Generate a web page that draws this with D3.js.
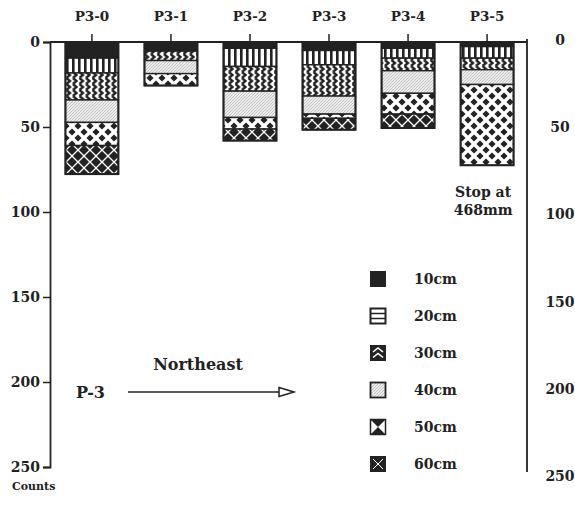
<!DOCTYPE html>
<html>
<head>
<meta charset="utf-8">
<script src="https://cdn.jsdelivr.net/npm/d3@7"></script>
<style>
  body { margin: 0; background: #fff; }
  text { font-family: "DejaVu Serif", "Liberation Serif", serif; font-weight: bold; fill: #222; }
</style>
</head>
<body>
<div id="chart"></div>
<script>
const categories = ["P3-0", "P3-1", "P3-2", "P3-3", "P3-4", "P3-5"];
const depths = ["10cm", "20cm", "30cm", "40cm", "50cm", "60cm"];

// counts per depth layer, one value per station
const d10 = [9.5, 5.4, 3.7, 5.0, 3.7, 2.7];
const d20 = [8.7, 0, 10.7, 8.4, 5.8, 6.8];
const d30 = [15.9, 5.5, 14.5, 18.4, 7.4, 6.8];
const d40 = [13.2, 7.7, 15.5, 10.6, 13.3, 8.7];
const d50 = [13.6, 7.0, 6.8, 2.5, 12.2, 47.5];
const d60 = [16.8, 0, 6.8, 6.7, 8.2, 0];

const yTicks = [0, 50, 100, 150, 200, 250];

const width = 575;
const height = 518;
const ink = "#222";

const svg = d3.select("#chart").append("svg").attr("width", width).attr("height", height);

const series = [d10, d20, d30, d40, d50, d60];
const table = categories.map((c, i) => {
  const row = { cat: c };
  depths.forEach((d, j) => (row[d] = series[j][i]));
  return row;
});
const stacked = d3.stack().keys(depths)(table);

const x = d3.scaleBand().domain(categories).range([52, 527]).paddingInner(0.33).paddingOuter(0.17);
const y = d3.scaleLinear().domain([0, 250]).range([42, 467]);
const yRight = d3.scaleLinear().domain([0, 250]).range([40, 476]);

// patterns
const defs = svg.append("defs");

function pattern(id, w, h) {
  return defs.append("pattern").attr("id", id).attr("patternUnits", "userSpaceOnUse")
    .attr("width", w).attr("height", h);
}

pattern("p10", 4, 4).append("rect").attr("width", 4).attr("height", 4).attr("fill", ink);

const p20 = pattern("p20", 6, 6);
p20.append("rect").attr("width", 6).attr("height", 6).attr("fill", "#fff");
p20.append("rect").attr("width", 2.6).attr("height", 6).attr("fill", ink);

const p30 = pattern("p30", 6.5, 6);
p30.append("rect").attr("width", 6.5).attr("height", 6).attr("fill", "#fff");
p30.append("polyline").attr("points", "1.5,0 5,3 1.5,6").attr("fill", "none")
  .attr("stroke", ink).attr("stroke-width", 2.4);

const p40 = pattern("p40", 3, 3);
p40.append("rect").attr("width", 3).attr("height", 3).attr("fill", "#ececec");
p40.append("path").attr("d", "M0,3 L3,0").attr("stroke", "#aaa").attr("stroke-width", 0.6);

// black diamonds on white, offset rows
const diamond = (cx, cy, r) => `M${cx},${cy - r} L${cx + r},${cy} L${cx},${cy + r} L${cx - r},${cy} Z`;
const p50 = pattern("p50", 12, 12);
p50.append("rect").attr("width", 12).attr("height", 12).attr("fill", "#fff");
p50.append("path")
  .attr("d", [[6, 6], [0, 0], [12, 0], [0, 12], [12, 12]].map(([a, b]) => diamond(a, b, 3.6)).join(" "))
  .attr("fill", ink);

const p60 = pattern("p60", 12, 12);
p60.append("rect").attr("width", 12).attr("height", 12).attr("fill", ink);
p60.append("path").attr("d", "M0,0 L12,12 M12,0 L0,12").attr("stroke", "#fff").attr("stroke-width", 1.3);

const fills = ["url(#p10)", "url(#p20)", "url(#p30)", "url(#p40)", "url(#p50)", "url(#p60)"];

// frame: top line + right vertical
svg.append("line").attr("x1", 50).attr("x2", 527).attr("y1", y(0)).attr("y2", y(0))
  .attr("stroke", ink).attr("stroke-width", 1.8);
svg.append("line").attr("x1", 527).attr("x2", 527).attr("y1", y(0) - 3).attr("y2", 472)
  .attr("stroke", ink).attr("stroke-width", 1.8);

// left axis
const left = svg.append("g").attr("transform", "translate(50,0)")
  .call(d3.axisLeft(y).tickValues(yTicks).tickSize(7).tickPadding(3));
left.select(".domain").attr("stroke", ink).attr("stroke-width", 1.8);
left.selectAll(".tick line").attr("stroke", ink).attr("stroke-width", 1.5);
left.selectAll(".tick text").style("font-size", "14px").attr("fill", ink)
  .style("font-family", "'DejaVu Serif', serif").style("font-weight", "bold");

// right labels (no ticks)
svg.append("g").selectAll("text").data(yTicks).join("text")
  .attr("x", 560).attr("y", (d) => yRight(d)).attr("dy", "0.35em")
  .attr("text-anchor", "middle").style("font-size", "14px").text((d) => d);

// top category ticks and labels
svg.append("g").selectAll("line").data(categories).join("line")
  .attr("x1", (d) => x(d) + x.bandwidth() / 2).attr("x2", (d) => x(d) + x.bandwidth() / 2)
  .attr("y1", y(0) - 8).attr("y2", y(0))
  .attr("stroke", ink).attr("stroke-width", 1.5);
svg.append("g").selectAll("text").data(categories).join("text")
  .attr("x", (d) => x(d) + x.bandwidth() / 2).attr("y", 21)
  .attr("text-anchor", "middle").style("font-size", "13.5px").text((d) => d);

// stacked bars
const layers = svg.append("g").selectAll("g").data(stacked).join("g")
  .attr("fill", (d, i) => fills[i]);
layers.selectAll("rect").data((d) => d.filter((s) => s[1] - s[0] > 0)).join("rect")
  .attr("x", (d) => x(d.data.cat))
  .attr("y", (d) => y(d[0]))
  .attr("width", x.bandwidth())
  .attr("height", (d) => y(d[1]) - y(d[0]))
  .attr("stroke", ink).attr("stroke-width", 1.4);

// outer outline of each bar
svg.append("g").selectAll("rect").data(table).join("rect")
  .attr("x", (d) => x(d.cat)).attr("y", y(0))
  .attr("width", x.bandwidth())
  .attr("height", (d) => y(d3.sum(depths, (k) => d[k])) - y(0))
  .attr("fill", "none").attr("stroke", ink).attr("stroke-width", 2);

// annotations
const cx5 = x("P3-5") + x.bandwidth() / 2;
svg.append("text").attr("x", cx5 - 4).attr("y", 197).attr("text-anchor", "middle")
  .style("font-size", "14px").text("Stop at");
svg.append("text").attr("x", cx5 - 4).attr("y", 215).attr("text-anchor", "middle")
  .style("font-size", "14px").text("468mm");

svg.append("text").attr("x", 198).attr("y", 370).attr("text-anchor", "middle")
  .style("font-size", "16px").text("Northeast");
svg.append("text").attr("x", 76).attr("y", 398).style("font-size", "16px").text("P-3");
svg.append("line").attr("x1", 128).attr("x2", 279).attr("y1", 392).attr("y2", 392)
  .attr("stroke", ink).attr("stroke-width", 1.4);
svg.append("path").attr("d", "M279,387.5 L294,392 L279,396.5 Z")
  .attr("fill", "#fff").attr("stroke", ink).attr("stroke-width", 1.5);

svg.append("text").attr("x", 12).attr("y", 490).style("font-size", "11px").text("Counts");

// legend
const legend = svg.append("g").selectAll("g").data(depths).join("g")
  .attr("transform", (d, i) => `translate(378,${279 + i * 37})`);
legend.append("text").attr("x", 36).attr("dy", "0.35em").style("font-size", "14px").text((d) => d);

const icon = (g, i) => {
  const s = 15, h = s / 2;
  const box = () => g.append("rect").attr("x", -h).attr("y", -h).attr("width", s).attr("height", s);
  if (i === 0) box().attr("fill", ink).attr("stroke", ink);
  if (i === 1) {
    box().attr("fill", "#fff").attr("stroke", ink).attr("stroke-width", 2);
    g.append("path").attr("d", `M${-h},-2.5 H${h} M${-h},2.5 H${h}`).attr("stroke", ink).attr("stroke-width", 1.6);
  }
  if (i === 2) {
    box().attr("fill", ink).attr("stroke", ink);
    g.append("path").attr("d", "M-5,-1 L0,-5 L5,-1 M-5,4.5 L0,0.5 L5,4.5").attr("fill", "none")
      .attr("stroke", "#fff").attr("stroke-width", 1.6);
  }
  if (i === 3) box().attr("fill", "url(#p40)").attr("stroke", ink).attr("stroke-width", 1.8);
  if (i === 4) {
    box().attr("fill", "#fff").attr("stroke", ink).attr("stroke-width", 1.5);
    g.append("path").attr("d", `M${-h},${-h} H${h} L0,0 Z M${-h},${h} H${h} L0,0 Z`).attr("fill", ink);
  }
  if (i === 5) {
    box().attr("fill", ink).attr("stroke", ink);
    g.append("path").attr("d", "M-5,-5 L5,5 M5,-5 L-5,5").attr("stroke", "#fff").attr("stroke-width", 1);
  }
};
legend.each(function (d, i) { icon(d3.select(this), i); });
</script>
</body>
</html>
